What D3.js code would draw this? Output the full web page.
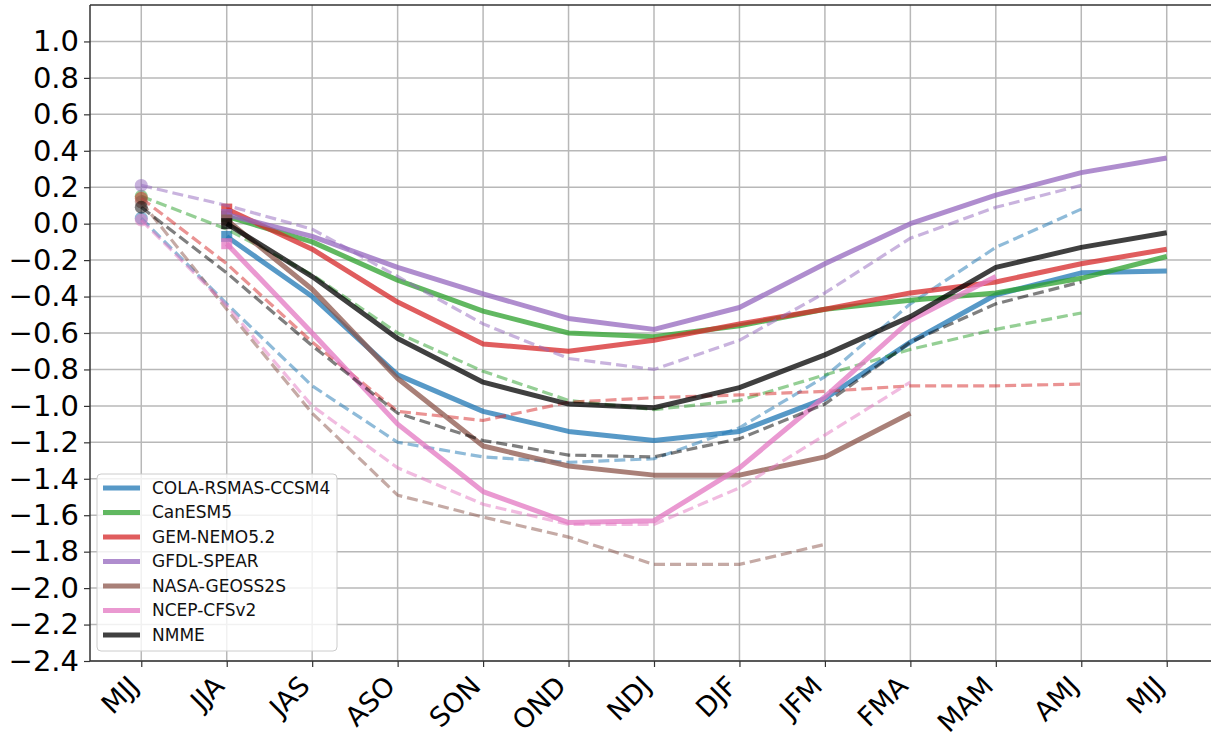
<!DOCTYPE html>
<html>
<head>
<meta charset="utf-8">
<script src="https://cdn.jsdelivr.net/npm/d3@7"></script>
<style>
  body { margin: 0; background: #fff; }
  svg { display: block; font-family: "DejaVu Sans", sans-serif; }
</style>
</head>
<body>
<div id="chart"></div>
<script>
// Season labels along the x axis
const seasons = ['MJJ', 'JJA', 'JAS', 'ASO', 'SON', 'OND', 'NDJ', 'DJF', 'JFM', 'FMA', 'MAM', 'AMJ', 'MJJ'];
const yTicks = [-2.4, -2.2, -2.0, -1.8, -1.6, -1.4, -1.2, -1.0, -0.8, -0.6, -0.4, -0.2, 0.0, 0.2, 0.4, 0.6, 0.8, 1.0];

const models = ['COLA-RSMAS-CCSM4', 'CanESM5', 'GEM-NEMO5.2', 'GFDL-SPEAR', 'NASA-GEOSS2S', 'NCEP-CFSv2', 'NMME'];
const modelColors = ['#1f77b4', '#2ca02c', '#d62728', '#9467bd', '#8c564b', '#e377c2', '#000000'];

// Previous forecast (dashed), starting at MJJ
const prevCOLA = [0.03, -0.44, -0.89, -1.20, -1.28, -1.31, -1.29, -1.12, -0.84, -0.44, -0.13, 0.08];
const prevCan  = [0.15, -0.03, -0.28, -0.60, -0.81, -0.97, -1.02, -0.97, -0.83, -0.69, -0.58, -0.49];
const prevGEM  = [0.14, -0.22, -0.65, -1.03, -1.08, -0.98, -0.955, -0.94, -0.92, -0.89, -0.89, -0.88];
const prevGFDL = [0.21, 0.10, -0.03, -0.29, -0.55, -0.74, -0.80, -0.64, -0.38, -0.08, 0.09, 0.21];
const prevNASA = [0.12, -0.47, -1.04, -1.49, -1.61, -1.72, -1.87, -1.87, -1.76];
const prevNCEP = [0.02, -0.45, -1.00, -1.34, -1.54, -1.65, -1.65, -1.45, -1.16, -0.87];
const prevNMME = [0.09, -0.27, -0.67, -1.04, -1.19, -1.27, -1.28, -1.18, -0.99, -0.65, -0.44, -0.32];

// Current forecast (solid), starting at JJA
const curCOLA = [-0.07, -0.40, -0.83, -1.03, -1.14, -1.19, -1.14, -0.96, -0.65, -0.39, -0.27, -0.26];
const curCan  = [0.04, -0.10, -0.31, -0.48, -0.60, -0.62, -0.56, -0.47, -0.42, -0.38, -0.30, -0.18];
const curGEM  = [0.08, -0.14, -0.43, -0.66, -0.70, -0.64, -0.55, -0.47, -0.38, -0.32, -0.22, -0.14];
const curGFDL = [0.05, -0.07, -0.24, -0.385, -0.52, -0.58, -0.46, -0.22, 0.00, 0.157, 0.28, 0.36];
const curNASA = [0.02, -0.36, -0.85, -1.22, -1.33, -1.38, -1.38, -1.28, -1.04];
const curNCEP = [-0.11, -0.60, -1.10, -1.47, -1.64, -1.63, -1.34, -0.95, -0.53, -0.29];
const curNMME = [0.00, -0.29, -0.63, -0.87, -0.99, -1.01, -0.90, -0.72, -0.51, -0.24, -0.13, -0.05];

const prevSeries = [prevCOLA, prevCan, prevGEM, prevGFDL, prevNASA, prevNCEP, prevNMME];
const curSeries = [curCOLA, curCan, curGEM, curGFDL, curNASA, curNCEP, curNMME];

const width = 1211, height = 737;
const margin = {top: 5, left: 90, bottom: 76, rightEdge: 1218};

const svg = d3.select('#chart').append('svg')
    .attr('width', width)
    .attr('height', height);

const x = d3.scalePoint()
    .domain(d3.range(seasons.length))
    .range([margin.left, margin.rightEdge])
    .padding(0.6);

const y = d3.scaleLinear()
    .domain([-2.4, 1.2])
    .range([height - margin.bottom, margin.top]);

// Grid
svg.append('g')
    .selectAll('line.hgrid')
    .data(yTicks)
    .join('line')
    .attr('x1', margin.left).attr('x2', margin.rightEdge)
    .attr('y1', d => y(d)).attr('y2', d => y(d))
    .attr('stroke', '#b8b8b8').attr('stroke-width', 1.5);

svg.append('g')
    .selectAll('line.vgrid')
    .data(d3.range(seasons.length))
    .join('line')
    .attr('x1', d => x(d)).attr('x2', d => x(d))
    .attr('y1', y(-2.4)).attr('y2', y(1.2))
    .attr('stroke', '#b8b8b8').attr('stroke-width', 1.5);

// Axes
const yAxis = d3.axisLeft(y).tickValues(yTicks).tickFormat(d3.format('.1f')).tickSize(6).tickPadding(5);
const gy = svg.append('g')
    .attr('transform', `translate(${margin.left},0)`)
    .call(yAxis);
gy.select('.domain').remove();
gy.attr('font-family', null);
gy.selectAll('text')
    .style('font-family', '"DejaVu Sans", sans-serif')
    .style('font-size', '29px')
    .attr('fill', '#000');
gy.selectAll('line').attr('stroke', '#333').attr('stroke-width', 1.2);

const xAxis = d3.axisBottom(x).tickFormat(i => seasons[i]).tickSize(6);
const gx = svg.append('g')
    .attr('transform', `translate(0,${y(-2.4)})`)
    .call(xAxis);
gx.select('.domain').remove();
gx.attr('font-family', null);
gx.selectAll('line').attr('stroke', '#333').attr('stroke-width', 1.2);
gx.selectAll('text')
    .style('font-family', '"DejaVu Sans", sans-serif')
    .style('font-size', '27px')
    .attr('fill', '#000')
    .style('text-anchor', 'end')
    .attr('y', 0)
    .attr('dy', '0.35em')
    .attr('dx', 0)
    .attr('transform', 'translate(-8,20) rotate(-45)');

// Lines
const line = d3.line()
    .x((d, i) => x(i))
    .y(d => y(d));

const lineCur = d3.line()
    .x((d, i) => x(i + 1))
    .y(d => y(d));

const plot = svg.append('g');

models.forEach((m, k) => {
    plot.append('path')
        .datum(prevSeries[k])
        .attr('fill', 'none')
        .attr('stroke', modelColors[k])
        .attr('stroke-opacity', 0.5)
        .attr('stroke-width', 3.2)
        .attr('stroke-dasharray', '11,5')
        .attr('d', line);

    plot.append('path')
        .datum(curSeries[k])
        .attr('fill', 'none')
        .attr('stroke', modelColors[k])
        .attr('stroke-opacity', 0.75)
        .attr('stroke-width', 5)
        .attr('stroke-linejoin', 'round')
        .attr('d', lineCur);

    plot.append('circle')
        .attr('cx', x(0))
        .attr('cy', y(prevSeries[k][0]))
        .attr('r', 6.5)
        .attr('fill', modelColors[k])
        .attr('fill-opacity', 0.5);

    plot.append('rect')
        .attr('x', x(1) - 5.5)
        .attr('y', y(curSeries[k][0]) - 5.5)
        .attr('width', 11)
        .attr('height', 11)
        .attr('fill', modelColors[k])
        .attr('fill-opacity', 0.75);
});

// Spines
svg.append('line')
    .attr('x1', margin.left).attr('x2', margin.left)
    .attr('y1', y(1.2)).attr('y2', y(-2.4))
    .attr('stroke', '#333').attr('stroke-width', 1.5);
svg.append('line')
    .attr('x1', margin.left).attr('x2', margin.rightEdge)
    .attr('y1', y(1.2)).attr('y2', y(1.2))
    .attr('stroke', '#333').attr('stroke-width', 1.5);
svg.append('line')
    .attr('x1', margin.left).attr('x2', margin.rightEdge)
    .attr('y1', y(-2.4)).attr('y2', y(-2.4))
    .attr('stroke', '#333').attr('stroke-width', 1.5);

// Legend
const legend = svg.append('g').attr('transform', 'translate(97,474)');
legend.append('rect')
    .attr('width', 240).attr('height', 177)
    .attr('rx', 4)
    .attr('fill', '#fff').attr('fill-opacity', 0.8)
    .attr('stroke', '#ccc');

models.forEach((m, k) => {
    const row = legend.append('g').attr('transform', `translate(0,${14 + k * 24.5})`);
    row.append('line')
        .attr('x1', 6).attr('x2', 43)
        .attr('stroke', modelColors[k])
        .attr('stroke-opacity', 0.75)
        .attr('stroke-width', 5);
    row.append('text')
        .attr('x', 55)
        .attr('dy', '0.35em')
        .style('font-size', '17px')
        .attr('fill', '#111')
        .text(m);
});
</script>
</body>
</html>
